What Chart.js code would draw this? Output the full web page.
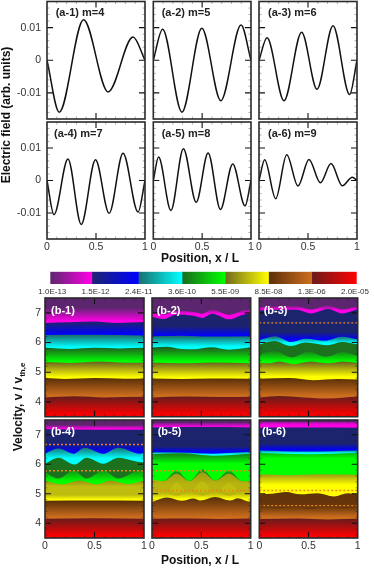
<!DOCTYPE html>
<html><head><meta charset="utf-8">
<script src="https://cdn.jsdelivr.net/npm/chart.js@4"></script>
<style>
html,body{margin:0;padding:0;background:#fff;width:374px;height:568px;overflow:hidden}
canvas{position:absolute;left:0;top:0;filter:blur(.35px)}
</style></head><body>
<div id="fig"></div>
<script>
// ---------- top panels: electric field, [x/L, field] read at each extremum ----------
const a1Wave=[[0,0],[.125,-.0159],[.373,.0124],[.624,-.0097],[.878,.0071],[1,0]];
const a2Wave=[[0,0],[.095,.0095],[.293,-.0159],[.497,.0098],[.691,-.0124],[.898,.0108],[1,0]];
const a3Wave=[[0,0],[.082,.0069],[.255,-.0124],[.435,.0086],[.592,-.0089],[.755,.0106],[.925,-.0105],[1,0]];
const a4Wave=[[0,0],[.071,-.0105],[.214,.0066],[.349,-.0135],[.495,.0064],[.634,-.0101],[.776,.0084],[.929,-.0097],[1,0]];
const a5Wave=[[0,0],[.054,.0072],[.18,-.0092],[.308,.0098],[.439,-.0067],[.561,.0085],[.687,-.0089],[.813,.0051],[.939,-.0078],[1,0]];
const a6Wave=[[0,0],[.058,.0064],[.17,-.0056],[.283,.0079],[.398,-.0017],[.51,.0065],[.626,-.0007],[.735,.0052],[.85,-.0016],[.952,.001],[1,0]];
const aLabels=["(a-1) m=4","(a-2) m=5","(a-3) m=6","(a-4) m=7","(a-5) m=8","(a-6) m=9"];
const bLabels=["(b-1)","(b-2)","(b-3)","(b-4)","(b-5)","(b-6)"];
const xTickValues=[0,.5,1];
const xTickLabels=["0","0.5","1"];
const xMinorValues=[.1,.2,.3,.4,.6,.7,.8,.9];
const fieldTickValues=[-.01,0,.01];
const fieldTickLabels=["-0.01","0","0.01"];
const fieldMinorValues=[-.016,-.014,-.012,-.008,-.006,-.004,-.002,.002,.004,.006,.008,.012,.014,.016];
const velTickValues=[4,5,6,7];
const velTickLabels=["4","5","6","7"];
const velMinorValues=[3.6,3.8,4.2,4.4,4.6,4.8,5.2,5.4,5.6,5.8,6.2,6.4,6.6,6.8,7.2,7.4];
const colorbarLabels=["1.0E-13","1.5E-12","2.4E-11","3.6E-10","5.5E-09","8.5E-08","1.3E-06","2.0E-05"];
const colorbarEdges=[-.046,.915,1.99,3,4,5,6,7.04];

// ---------- bottom panels: contour edges [x/L, v] and their shading ----------
// shade row: colour family, v where the ramp starts, ramp level there, v where it ends, ramp level there
const b1Curves=[[[0,7.5],[1,7.5]],
[[0,6.66],[.25,6.68],[.5,6.71],[.72,6.66],[1,6.69]],
[[0,6.25],[.5,6.26],[1,6.24]],
[[0,5.82],[.25,5.78],[.5,5.82],[.75,5.8],[1,5.82]],
[[0,5.34],[.25,5.31],[.55,5.36],[.8,5.32],[1,5.33]],
[[0,4.8],[.2,4.77],[.5,4.8],[.8,4.78],[1,4.79]],
[[0,4.15],[.3,4.19],[.6,4.15],[1,4.17]]];
const b1Shades=[[0,7.18,0,6.72,1],[1,6.68,0,6.27,1],[2,6.25,0,5.84,1],[3,5.8,0,5.36,1],[4,5.33,0,4.83,1],[5,4.79,0,4.2,1],[6,4.16,0,3.55,1]];
const b1Dashes=[];

const b2Curves=[[[0,7.5],[1,7.5]],
[[0,7],[.12,6.94],[.25,7.07],[.42,7.03],[.51,6.97],[.61,7.11],[.78,6.93],[.97,7.11],[1,7.11]],
[[0,6.86],[.12,6.79],[.25,6.94],[.42,6.9],[.51,6.83],[.61,6.97],[.78,6.78],[.97,6.97],[1,6.97]],
[[0,6.21],[.3,6.23],[.6,6.2],[1,6.21]],
[[0,5.83],[.15,5.86],[.3,5.78],[.42,5.77],[.6,5.84],[.78,5.76],[1,5.84]],
[[0,5.33],[.3,5.3],[.6,5.33],[1,5.3]],
[[0,4.79],[.3,4.77],[.6,4.79],[1,4.78]],
[[0,4.15],[.35,4.18],[.7,4.16],[1,4.17]]];
const b2Shades=[[0,7.4,0,7.3,0],[0,7.12,.15,6.97,1],[1,6.55,0,6.22,1],[2,6.21,0,5.86,1],[3,5.8,0,5.36,1],[4,5.31,0,4.82,1],[5,4.79,0,4.2,1],[6,4.17,0,3.55,1]];
const b2Dashes=[];

const b3Curves=[[[0,7.5],[1,7.5]],
[[0,7.2],[.18,7.22],[.38,7.22],[.52,7.11],[.7,7.25],[.84,7.11],[1,7.24]],
[[0,7.08],[.18,7.1],[.38,7.1],[.52,6.98],[.7,7.13],[.84,6.98],[1,7.12]],
[[0,6.08],[.16,6.21],[.32,6.02],[.47,6.13],[.67,6.06],[.84,6.19],[1,6.1]],
[[0,5.93],[.15,6.05],[.32,5.88],[.47,6],[.69,5.91],[.84,6.02],[1,5.94]],
[[0,5.6],[.15,5.72],[.33,5.5],[.5,5.7],[.68,5.52],[.85,5.68],[1,5.55]],
[[0,5.31],[.1,5.3],[.2,5.36],[.35,5.27],[.52,5.36],[.7,5.3],[.85,5.36],[1,5.31]],
[[0,4.78],[.3,4.8],[.55,4.73],[.8,4.77],[1,4.75]],
[[0,4.15],[.2,4.2],[.45,4.15],[.7,4.11],[1,4.18]]];
const b3Shades=[[0,7.4,0,7.3,0],[0,7.24,.2,7.1,1],[1,6.35,0,6.1,1],[2,6.2,0,5.98,1],[3,5.9,.05,5.7,.05],[3,5.72,.1,5.36,1],[4,5.33,0,4.85,1],[5,4.78,0,4.2,1],[6,4.17,0,3.55,1]];
const b3Dashes=[6.66];

const b4Curves=[[[0,7.5],[1,7.5]],
[[0,7.33],[.5,7.32],[1,7.31]],
[[0,7.19],[.5,7.17],[1,7.17]],
[[0,6.36],[.135,6.53],[.29,6.36],[.4,6.56],[.59,6.36],[.74,6.56],[.96,6.36],[1,6.39]],
[[0,6.02],[.135,6.22],[.3,5.99],[.42,6.22],[.59,6.02],[.74,6.22],[.98,6.07],[1,6.08]],
[[0,5.72],[.135,5.52],[.29,5.79],[.42,5.52],[.59,5.79],[.74,5.52],[.96,5.79],[1,5.75]],
[[0,5.45],[.17,5.32],[.35,5.45],[.52,5.32],[.66,5.45],[.84,5.33],[1,5.45]],
[[0,4.96],[.25,4.97],[.5,4.95],[.75,4.97],[1,4.96]],
[[0,4.76],[.5,4.77],[1,4.76]],
[[0,4.15],[.5,4.17],[1,4.15]]];
const b4Shades=[[0,7.4,0,7.35,0],[0,7.33,.1,7.2,1],[1,6.75,0,6.4,1],[2,6.55,.05,6.2,1],[3,5.9,.05,5.7,.05],[3,5.8,.25,5.42,1],[4,5.42,.3,5.25,.55],[4,4.96,.55,4.8,1],[5,4.76,0,4.2,1],[6,4.15,0,3.55,1]];
const b4Dashes=[6.67,5.78];

const b5Curves=[[[0,7.5],[1,7.5]],
[[0,7.4],[1,7.4]],
[[0,7.25],[.5,7.26],[1,7.25]],
[[0,6.41],[.3,6.4],[.62,6.36],[1,6.42]],
[[0,6.34],[.3,6.37],[.62,6.29],[1,6.36]],
[[0,5.45],[.11,5.42],[.25,5.78],[.38,5.43],[.51,5.83],[.64,5.45],[.78,5.78],[.92,5.42],[1,5.42]],
[[0,5.48],[.11,5.42],[.25,5.68],[.38,5.43],[.51,5.73],[.64,5.45],[.78,5.68],[.92,5.42],[1,5.42]],
[[0,5],[.14,5],[.25,5.38],[.37,5],[.51,5.42],[.64,5],[.78,5.38],[.91,5],[1,5]],
[[0,5.15],[.13,5.15],[.25,5.05],[.38,5.15],[.51,5.05],[.64,5.15],[.78,5.05],[.91,5.15],[1,5.15]],
[[0,5],[.12,5.05],[.25,4.93],[.38,5.05],[.51,4.93],[.64,5.05],[.78,4.93],[.92,5.05],[1,4.98]],
[[0,4.72],[.15,4.87],[.3,4.76],[.42,4.84],[.49,4.77],[.64,4.89],[.79,4.77],[.87,4.85],[.98,4.74],[1,4.74]],
[[0,4.15],[.4,4.16],[.7,4.14],[1,4.16]]];
const b5Shades=[[0,7.45,0,7.42,0],[0,7.4,.2,7.27,1],[1,6.6,0,6.41,1],[2,6.41,.2,6.34,1],[3,6.34,.2,6.02,1],[3,5.85,.4,5.65,.3],[4,5.7,.35,5.3,.5],[4,5.4,.54,5.1,.58],[4,5.2,.5,5,.5],[4,5,.55,4.82,1],[5,4.87,0,4.2,1],[6,4.15,0,3.55,1]];
const b5Dashes=[5.78,5.11];

const b6Curves=[[[0,7.5],[1,7.5]],
[[0,7.42],[1,7.42]],
[[0,7.24],[.5,7.25],[1,7.24]],
[[0,6.47],[.5,6.43],[1,6.47]],
[[0,6.38],[.5,6.34],[1,6.38]],
[[0,5.66],[.3,5.63],[.6,5.66],[1,5.64]],
[[0,4.98],[.13,5],[.27,5.06],[.42,4.98],[.59,5.02],[.76,4.91],[.9,5.02],[1,4.98]],
[[0,4.55],[.2,4.5],[.35,4.55],[.5,4.48],[.7,4.55],[.85,4.5],[1,4.55]],
[[0,4.14],[.4,4.16],[.7,4.13],[1,4.15]]];
const b6Shades=[[0,7.45,0,7.43,0],[0,7.42,.6,7.32,1],[1,6.7,0,6.48,1],[2,6.46,.2,6.38,1],[3,6.38,.5,6.2,1],[4,5.65,.35,5.3,1],[5,5,.05,4.6,.12],[5,4.55,.15,4.2,1],[6,4.14,0,3.55,1]];
const b6Dashes=[5.11,4.6];

// ---------- colours and layout ----------
const rampDark=[[92,38,110],[28,36,110],[25,110,110],[28,105,30],[110,105,30],[90,48,8],[105,28,28]];
const rampBright=[[255,0,230],[0,0,255],[0,255,255],[0,255,0],[255,255,0],[205,110,30],[255,0,0]];
const W=374,H=568,FONT='"Liberation Sans", Arial, sans-serif';
const AXIS_W=40,AXIS_H=18;
const aCols=[[47,145],[153.3,251],[259,357]],aRows=[[1.5,119],[122,239]];
const bCols=[[45,144],[152,250.7],[259.3,357.7]],bRows=[[298,416.7],[420,538]];
const aLabelPos=[[55.7,13.3],[161.7,13.3],[268,13.3],[54,134],[161.7,134],[268,134]];
const bLabelPos=[[51,310.7],[156.7,310.7],[263.7,310.7],[51,432],[157.7,432],[262,432]];

function ramp(h,t){const d=rampDark[h],b=rampBright[h];
  return 'rgb('+d.map((c,i)=>Math.round(c+(b[i]-c)*t)).join(',')+')';}
function newCanvas(){const c=document.createElement('canvas');c.width=W;c.height=H;
  c.style.width=W+'px';c.style.height=H+'px';document.getElementById('fig').appendChild(c);return c;}
function pad(col,row){return {left:col[0]-AXIS_W,right:W-col[1],top:row[0],bottom:H-row[1]-AXIS_H};}
function toPts(a){return a.map(p=>({x:p[0],y:p[1]}));}
function noMargins(s){s.paddingLeft=s.paddingRight=s.paddingTop=s.paddingBottom=0;}
const noGrid={display:false,drawTicks:false};

function framePlugin(o){return {id:'frame',afterDatasetsDraw(chart){
  const c=chart.ctx,A=chart.chartArea,X=chart.scales.x,Y=chart.scales.y;
  c.save();c.lineCap='butt';
  function tick(px,len,vert){c.beginPath();
    if(vert){c.moveTo(px,A.top);c.lineTo(px,A.top+len);c.moveTo(px,A.bottom);c.lineTo(px,A.bottom-len);}
    else{c.moveTo(A.left,px);c.lineTo(A.left+len,px);c.moveTo(A.right,px);c.lineTo(A.right-len,px);}
    c.stroke();}
  c.strokeStyle=o.minorColor;c.lineWidth=.6;
  xMinorValues.forEach(v=>tick(X.getPixelForValue(v),2.5,true));
  o.yMinor.forEach(v=>tick(Y.getPixelForValue(v),2.5,false));
  c.strokeStyle='#111';c.lineWidth=1.1;
  tick(X.getPixelForValue(.5),6,true);
  o.yMajor.forEach(v=>tick(Y.getPixelForValue(v),6,false));
  c.strokeStyle='#2a2a2a';c.lineWidth=1.6;c.strokeRect(A.left,A.top,A.right-A.left,A.bottom-A.top);
  c.font='bold 11px '+FONT;c.fillStyle=o.labelColor;c.textAlign='left';c.textBaseline='middle';
  c.fillText(o.label,o.labelPos[0],o.labelPos[1]);
  c.restore();
}};}

function scaleOpts(o){return {
  x:{type:'linear',min:0,max:1,grid:noGrid,border:{display:false},
     afterBuildTicks(s){s.ticks=xTickValues.map(v=>({value:v}));},
     afterFit(s){s.height=AXIS_H;noMargins(s);},
     ticks:{display:o.showX,autoSkip:false,maxRotation:0,padding:o.xPad,color:'#333',font:{family:FONT,size:10.5},
       callback:(v)=>xTickLabels[xTickValues.indexOf(v)]}},
  y:{type:'linear',min:o.yMin,max:o.yMax,grid:noGrid,border:{display:false},
     afterBuildTicks(s){s.ticks=o.yMajor.map(v=>({value:v}));},
     afterFit(s){s.width=AXIS_W;noMargins(s);},
     ticks:{display:o.showY,autoSkip:false,padding:o.yPad,color:'#333',font:{family:FONT,size:10.5},
       callback:(v)=>o.yLabels[o.yMajor.indexOf(v)]}}};}

function panel(o,datasets){
  return new Chart(newCanvas(),{type:'line',data:{datasets},
    options:{responsive:false,animation:false,events:[],devicePixelRatio:1,
      layout:{padding:pad(o.col,o.row)},
      plugins:{legend:{display:false},tooltip:{enabled:false},title:{display:false}},
      scales:scaleOpts(o)},
    plugins:[framePlugin(o)]});
}

// electric-field panels
[a1Wave,a2Wave,a3Wave,a4Wave,a5Wave,a6Wave].forEach((wave,i)=>{
  const col=aCols[i%3],row=aRows[i<3?0:1];
  panel({col,row,yMin:-.018,yMax:.018,yMajor:fieldTickValues,yLabels:fieldTickLabels,yMinor:fieldMinorValues,
    showX:i>=3,showY:i%3===0,xPad:2,yPad:6,minorColor:'#777',label:aLabels[i],labelPos:aLabelPos[i],labelColor:'#222'},
    [{data:toPts(wave),borderColor:'#111',borderWidth:1.5,pointRadius:0,fill:false,cubicInterpolationMode:'monotone'}]);
});

// distribution panels: painted from the top band down, each filled to the axis bottom
function bandFill(s){return ctx=>{
  const ch=ctx.chart;if(!ch.chartArea||!ch.scales.y)return 'rgba(0,0,0,0)';
  const Y=ch.scales.y,g=ch.ctx.createLinearGradient(0,Y.getPixelForValue(s[1]),0,Y.getPixelForValue(s[3]));
  g.addColorStop(0,ramp(s[0],s[2]));g.addColorStop(1,ramp(s[0],s[4]));return g;};}
[[b1Curves,b1Shades,b1Dashes],[b2Curves,b2Shades,b2Dashes],[b3Curves,b3Shades,b3Dashes],
 [b4Curves,b4Shades,b4Dashes],[b5Curves,b5Shades,b5Dashes],[b6Curves,b6Shades,b6Dashes]].forEach((p,i)=>{
  const col=bCols[i%3],row=bRows[i<3?0:1];
  const dashes=p[2].map(v=>({data:[{x:0,y:v},{x:1,y:v}],borderColor:'#ee8418',borderWidth:1.3,borderDash:[2,2],pointRadius:0,fill:false}));
  const bands=p[0].map((curve,k)=>({data:toPts(curve),borderWidth:0,borderColor:'rgba(0,0,0,0)',pointRadius:0,
      fill:'start',backgroundColor:bandFill(p[1][k]),cubicInterpolationMode:'monotone'})).reverse();
  panel({col,row,yMin:3.5,yMax:7.5,yMajor:velTickValues,yLabels:velTickLabels,yMinor:velMinorValues,
    showX:i>=3,showY:i%3===0,xPad:2,yPad:4,minorColor:'rgba(20,20,20,.55)',label:bLabels[i],labelPos:bLabelPos[i],labelColor:'#fff'},
    dashes.concat(bands));
});

// colour bar with figure-level axis titles
const figureText={id:'figureText',afterDraw(chart){
  const c=chart.ctx;c.save();c.fillStyle='#111';c.textBaseline='middle';c.textAlign='center';
  c.font='bold 12px '+FONT;
  c.fillText('Position, x / L',200,259);
  c.fillText('Position, x / L',200,560.7);
  c.save();c.translate(7,115);c.rotate(-Math.PI/2);c.fillText('Electric field (arb. units)',0,0);c.restore();
  c.save();c.translate(19,407);c.rotate(-Math.PI/2);
  const m='Velocity, v / v',s='th,e';c.font='bold 12px '+FONT;const mw=c.measureText(m).width;
  c.font='bold 8px '+FONT;const sw=c.measureText(s).width,x0=-(mw+sw)/2;
  c.textAlign='left';c.font='bold 12px '+FONT;c.fillText(m,x0,0);
  c.font='bold 8px '+FONT;c.fillText(s,x0+mw,3.5);c.restore();
  c.restore();
}};
new Chart(newCanvas(),{type:'bar',
  data:{labels:['f'],datasets:rampDark.map((d,i)=>({
    data:[[colorbarEdges[i],colorbarEdges[i+1]]],grouped:false,barPercentage:1,categoryPercentage:1,borderWidth:0,
    backgroundColor:ctx=>{const ch=ctx.chart;if(!ch.chartArea||!ch.scales.x)return 'rgba(0,0,0,0)';
      const X=ch.scales.x,g=ch.ctx.createLinearGradient(X.getPixelForValue(colorbarEdges[i]),0,X.getPixelForValue(colorbarEdges[i+1]),0);
      g.addColorStop(0,ramp(i,0));g.addColorStop(1,ramp(i,1));return g;}}))},
  options:{indexAxis:'y',responsive:false,animation:false,events:[],devicePixelRatio:1,
    layout:{padding:{left:50.3,right:W-356.7,top:271.7,bottom:H-284-AXIS_H}},
    plugins:{legend:{display:false},tooltip:{enabled:false}},
    scales:{
      x:{type:'linear',min:colorbarEdges[0],max:colorbarEdges[7],grid:noGrid,border:{display:false},
        afterBuildTicks(s){s.ticks=colorbarLabels.map((l,i)=>({value:i}));},
        afterFit(s){s.height=AXIS_H;noMargins(s);},
        ticks:{autoSkip:false,maxRotation:0,padding:3,color:'#333',font:{family:FONT,size:8},callback:(v)=>colorbarLabels[v]}},
      y:{type:'category',display:false,afterFit(s){s.width=0;}}}},
  plugins:[figureText]});
</script>
</body></html>
